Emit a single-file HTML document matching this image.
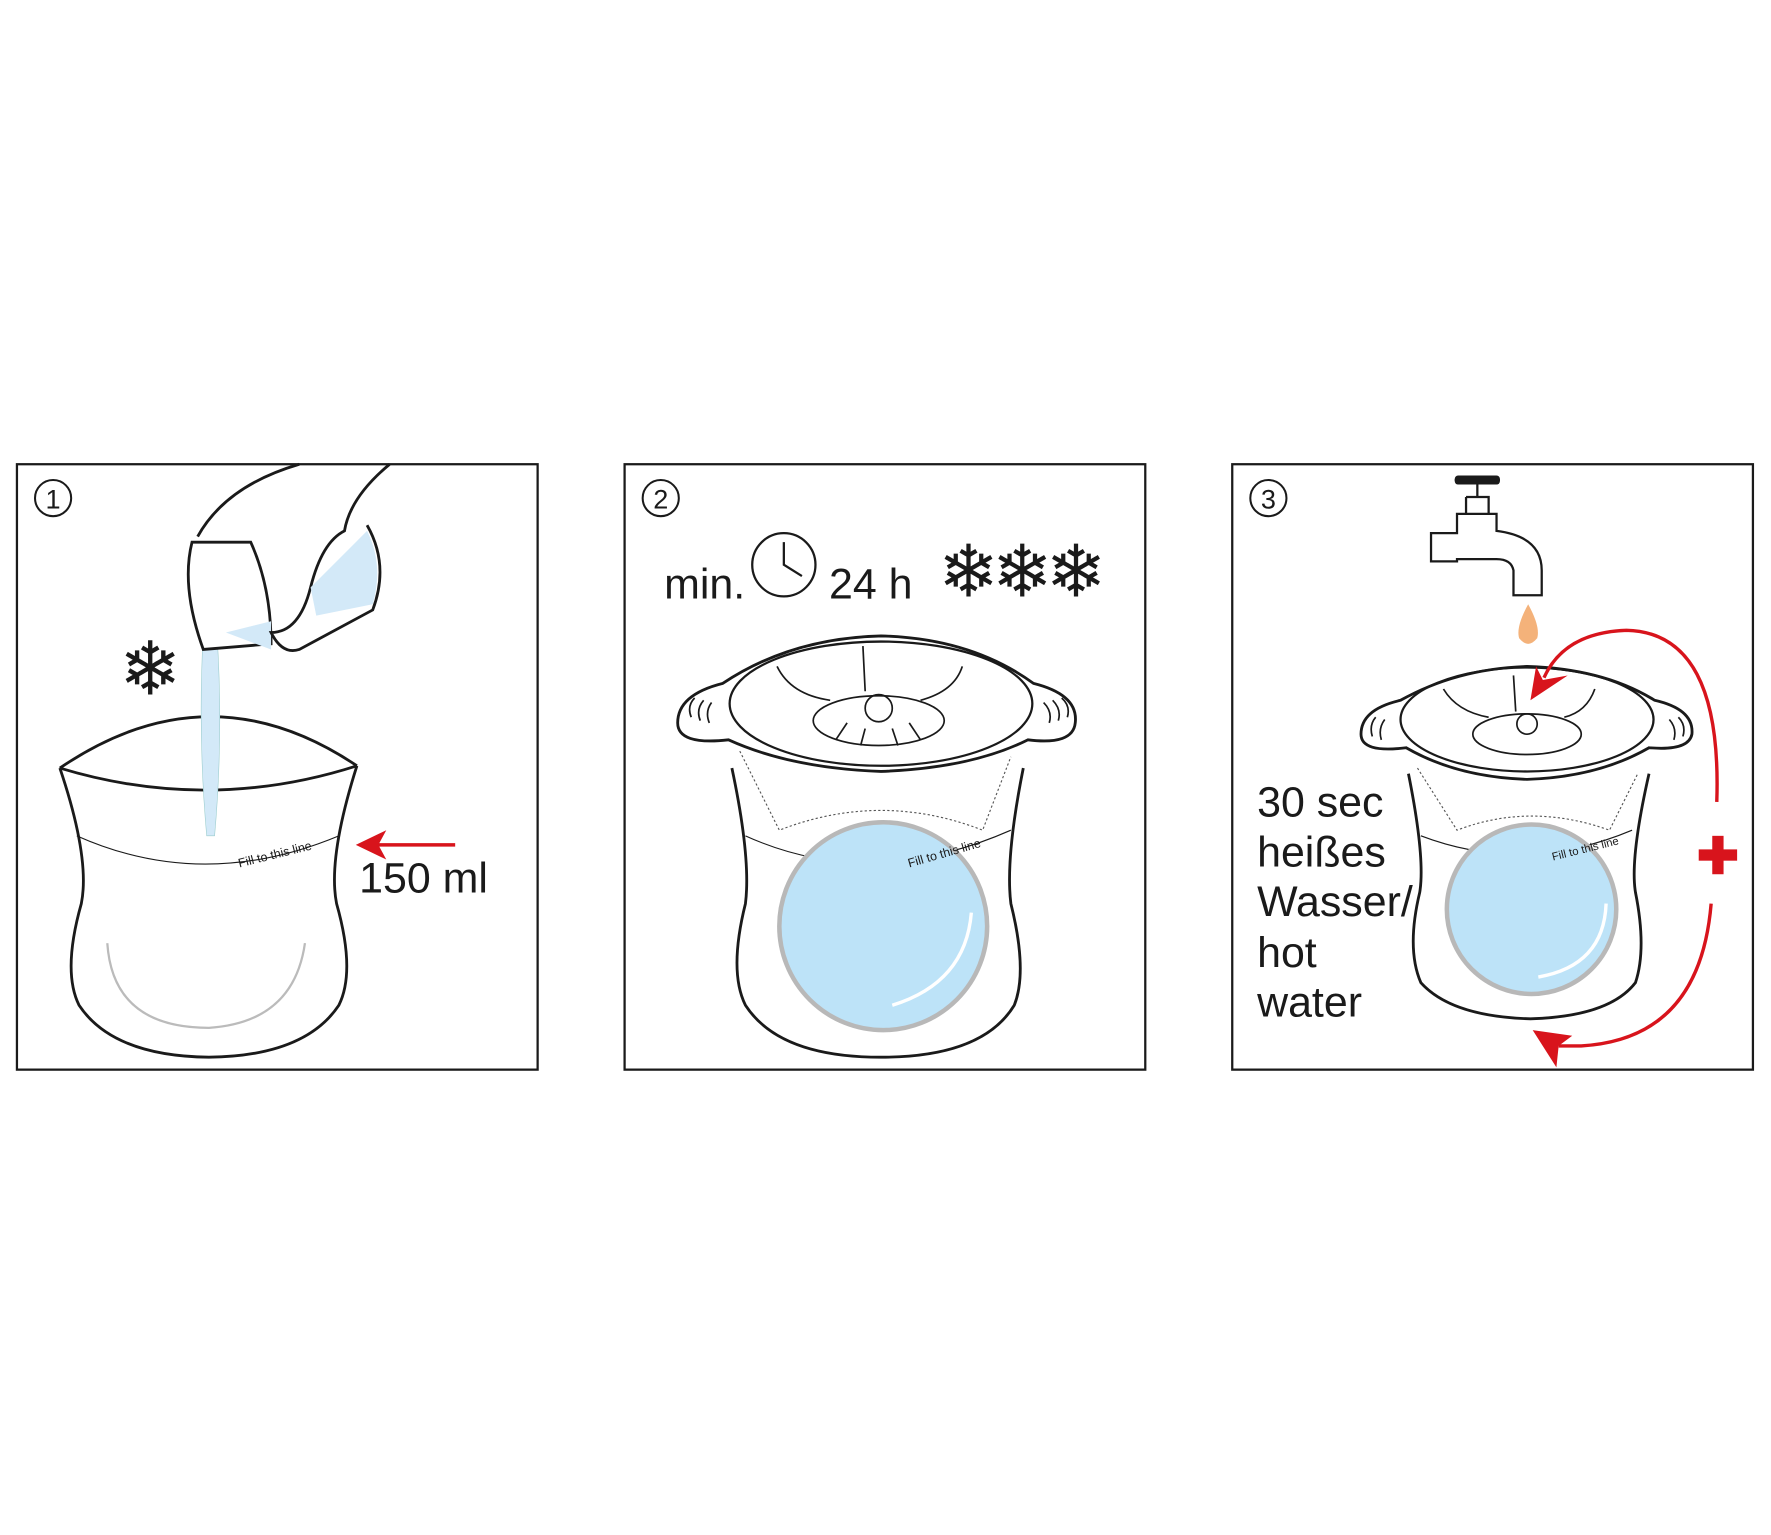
<!DOCTYPE html>
<html><head><meta charset="utf-8"><style>
html,body{margin:0;padding:0;background:#fff;}
svg{display:block;}
text{font-family:"Liberation Sans",sans-serif;}
</style></head><body>
<svg width="1771" height="1535" viewBox="0 0 1568 1359" preserveAspectRatio="none" xmlns="http://www.w3.org/2000/svg">
<rect width="1568" height="1359" fill="#fff"/>
<g fill="none" stroke="#1a1a1a" stroke-width="2">
<rect x="15" y="411" width="461" height="536"/>
<rect x="553" y="411" width="461" height="536"/>
<rect x="1091" y="411" width="461" height="536"/>
</g>
<g fill="none" stroke="#1a1a1a" stroke-width="1.8">
<circle cx="47" cy="441" r="16"/><circle cx="585" cy="441" r="16"/><circle cx="1123" cy="441" r="16"/>
</g>
<g font-size="24" text-anchor="middle" fill="#1a1a1a">
<text x="47" y="450">1</text><text x="585" y="450">2</text><text x="1123" y="450">3</text>
</g>

<!-- Panel 1 -->
<g fill="none" stroke="#1a1a1a" stroke-width="2.5">
<path d="M53,680 Q185,590 316,678"/>
<path d="M53,680 Q185,720 316,678"/>
<path d="M53,680 Q80,760 72,800 Q55,860 70,890 Q100,935 185,936 Q270,935 300,890 Q315,860 298,800 Q290,760 316,678"/>
</g>
<path d="M68,740 Q180,790 300,740" fill="none" stroke="#1a1a1a" stroke-width="1"/>
<text x="212" y="768" font-size="11" transform="rotate(-14 212 768)" fill="#1a1a1a">Fill to this line</text>
<path d="M95,835 Q100,910 185,910 Q260,905 270,835" fill="none" stroke="#bbb" stroke-width="2"/>
<path d="M180,560 Q175,650 183,740 L190,740 Q198,650 192,560 Z" fill="#d3e9f8" stroke="#9cc" stroke-width="0.5"/>
<path d="M170,480 Q160,520 180,575 L240,570 Q240,520 222,480 Z" fill="#fff" stroke="#1a1a1a" stroke-width="2.5"/>
<path d="M200,560 L240,550 L240,575 Z" fill="#d3e9f8"/>
<path d="M175,475 Q200,430 265,411 M345,411 Q310,440 305,470 Q285,480 275,520 Q265,560 240,560 Q250,580 265,575 L330,540 Q345,500 325,465" fill="none" stroke="#1a1a1a" stroke-width="2.5"/>
<path d="M275,520 L280,545 L330,535 Q340,500 325,470 Z" fill="#d3e9f8"/>
<text x="133" y="615" font-size="66" text-anchor="middle" fill="#1a1a1a">❄</text>
<path d="M403,748 L325,748" stroke="#d8141c" stroke-width="3"/>
<path d="M315,748 L342,735 L335,748 L342,761 Z" fill="#d8141c"/>
<text x="318" y="790" font-size="38" fill="#1a1a1a">150 ml</text>

<!-- Panel 2 -->
<text x="588" y="530" font-size="38" fill="#1a1a1a">min.</text>
<circle cx="694" cy="500" r="28" fill="none" stroke="#1a1a1a" stroke-width="2"/>
<path d="M694,480 L694,500 L710,510" fill="none" stroke="#1a1a1a" stroke-width="2"/>
<text x="734" y="530" font-size="38" fill="#1a1a1a">24 h</text>
<text x="902" y="528" font-size="64" text-anchor="middle" fill="#1a1a1a" letter-spacing="-6">❄❄❄</text>
<g fill="none" stroke="#1a1a1a" stroke-width="2.5">
<path d="M648,680 Q665,760 660,800 Q645,860 660,890 Q690,936 780,936 Q870,936 898,890 Q910,860 895,800 Q890,760 906,680"/>
<path d="M600,640 Q600,615 640,605 Q700,565 780,563 Q860,565 915,605 Q955,615 952,640 Q950,660 910,655 Q860,680 780,683 Q700,680 645,655 Q600,660 600,640 Z"/>
<ellipse cx="780" cy="623" rx="134" ry="55" stroke-width="2"/>
<ellipse cx="778" cy="638" rx="58" ry="22" stroke-width="1.5"/>
<circle cx="778" cy="627" r="12" stroke-width="1.5"/>
</g>
<g fill="none" stroke="#1a1a1a" stroke-width="1.5">
<path d="M764,572 L766,612 M688,590 Q700,615 735,620 M852,590 Q845,612 815,620 M750,640 L740,655 M766,645 L762,660 M790,645 L795,660 M805,640 L815,655"/>
<path d="M612,635 Q608,625 615,618 M620,638 Q616,628 623,620 M628,640 Q624,630 630,622 M945,635 Q948,625 940,618 M937,638 Q940,628 932,620 M929,640 Q932,630 924,622"/>
</g>
<path d="M655,665 L690,735 Q780,700 870,735 L895,670" fill="none" stroke="#555" stroke-width="1" stroke-dasharray="2 2"/>
<path d="M660,740 Q770,790 895,735" fill="none" stroke="#1a1a1a" stroke-width="1"/>
<circle cx="782" cy="820" r="92" fill="#bde3f8" stroke="#b8b8b8" stroke-width="4"/>
<path d="M790,890 Q855,870 860,808" fill="none" stroke="#fff" stroke-width="3"/>
<text x="805" y="768" font-size="11" transform="rotate(-16 805 768)" fill="#1a1a1a">Fill to this line</text>

<!-- Panel 3 -->
<path d="M1288,425 L1328,425 M1308,425 L1308,440 M1298,440 L1318,440 L1318,455 M1298,440 L1298,455 M1290,455 L1325,455 L1325,470 Q1365,475 1365,505 L1365,527 L1340,527 L1340,505 Q1338,495 1325,495 L1290,495 L1290,497 L1267,497 L1267,472 L1290,472 Z" fill="#fff" stroke="#1a1a1a" stroke-width="2"/>
<rect x="1288" y="421" width="40" height="8" rx="3" fill="#1a1a1a"/>
<path d="M1353,535 Q1342,555 1345,565 Q1353,575 1361,565 Q1364,555 1353,535 Z" fill="#f4b27a"/>
<g fill="none" stroke="#1a1a1a" stroke-width="2.5">
<path d="M1247,685 Q1262,760 1257,790 Q1245,840 1258,870 Q1285,900 1355,902 Q1425,900 1448,870 Q1458,840 1448,790 Q1443,760 1460,685"/>
<path d="M1205,650 Q1205,628 1240,620 Q1290,592 1352,590 Q1420,592 1465,620 Q1500,628 1498,650 Q1495,665 1460,662 Q1415,688 1352,690 Q1290,688 1245,662 Q1205,667 1205,650 Z"/>
<ellipse cx="1352" cy="637" rx="112" ry="46" stroke-width="2"/>
<ellipse cx="1352" cy="650" rx="48" ry="18" stroke-width="1.5"/>
<circle cx="1352" cy="641" r="9" stroke-width="1.5"/>
</g>
<g fill="none" stroke="#1a1a1a" stroke-width="1.5">
<path d="M1340,598 L1342,630 M1278,610 Q1290,630 1318,635 M1412,610 Q1405,630 1385,635 M1215,652 Q1212,642 1218,635 M1223,655 Q1220,645 1226,637 M1490,652 Q1493,642 1486,635 M1482,655 Q1485,645 1478,637"/>
</g>
<path d="M1255,680 L1290,735 Q1355,710 1425,735 L1450,685" fill="none" stroke="#555" stroke-width="1" stroke-dasharray="2 2"/>
<path d="M1258,740 Q1350,775 1445,735" fill="none" stroke="#1a1a1a" stroke-width="1"/>
<circle cx="1356" cy="805" r="75" fill="#bde3f8" stroke="#b8b8b8" stroke-width="4"/>
<path d="M1362,865 Q1420,855 1422,800" fill="none" stroke="#fff" stroke-width="3"/>
<text x="1375" y="762" font-size="10" transform="rotate(-14 1375 762)" fill="#1a1a1a">Fill to this line</text>
<g font-size="38" fill="#1a1a1a">
<text x="1113" y="723">30 sec</text><text x="1113" y="767">heißes</text><text x="1113" y="811">Wasser/</text><text x="1113" y="856">hot</text><text x="1113" y="900">water</text>
</g>
<g fill="none" stroke="#d8141c" stroke-width="3">
<path d="M1520,710 Q1525,560 1440,558 Q1385,560 1367,600"/>
<path d="M1515,800 Q1505,920 1400,926 L1380,926"/>
</g>
<path d="M1355,620 L1360,590 L1366,602 L1388,598 Z" fill="#d8141c"/>
<path d="M1357,912 L1392,917 L1380,926 L1378,945 Z" fill="#d8141c"/>
<rect x="1504" y="752" width="34" height="10" fill="#d8141c"/>
<rect x="1516" y="740" width="10" height="34" fill="#d8141c"/>
</svg>
</body></html>
